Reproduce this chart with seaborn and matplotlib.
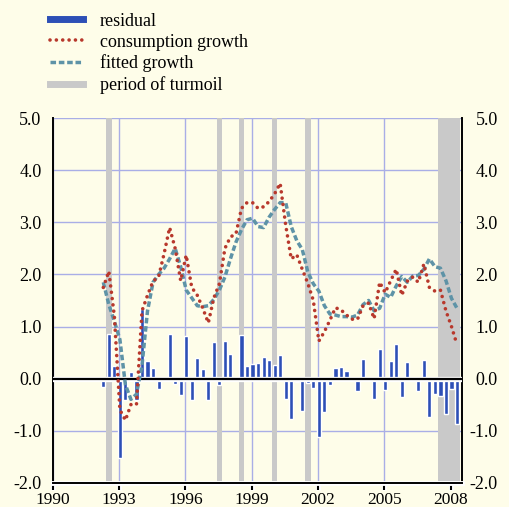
import numpy as np
import pandas as pd
import matplotlib
matplotlib.use("Agg")
import matplotlib.pyplot as plt
import matplotlib.patheffects as pe
from matplotlib.lines import Line2D
import seaborn as sns

# quarterly series, 1992Q2 - 2008Q2
quarters = pd.period_range("1992Q2", "2008Q2", freq="Q")

residual = [-0.16, 0.85, 0.25, -1.53, -0.41, 0.12, -0.41, 1.33, 0.33, 0.20,
            -0.20, 0.00, 0.86, -0.10, -0.32, 0.82, -0.41, 0.40, 0.18, -0.41,
            0.71, -0.12, 0.72, 0.47, 0.02, 0.84, 0.25, 0.28, 0.29, 0.42,
            0.36, 0.26, 0.45, -0.40, -0.78, -0.07, -0.62, -0.08, -0.19, -1.12,
            -0.64, -0.13, 0.20, 0.22, 0.14, 0.00, -0.24, 0.38, 0.00, -0.40,
            0.57, -0.22, 0.34, 0.66, -0.35, 0.32, 0.00, -0.24, 0.35, -0.74,
            -0.30, -0.33, -0.69, -0.21, -0.88]

consumption = [1.75, 2.06, 1.20, -0.60, -0.80, -0.50, -0.50, 1.30, 1.60, 1.87,
               1.95, 2.40, 2.90, 2.50, 1.88, 2.37, 1.75, 1.60, 1.35, 1.07,
               1.55, 1.82, 2.50, 2.72, 2.78, 3.27, 3.38, 3.38, 3.27, 3.30,
               3.40, 3.55, 3.75, 2.95, 2.30, 2.38, 2.10, 1.83, 1.50, 0.72,
               0.90, 1.12, 1.36, 1.32, 1.22, 1.14, 1.14, 1.40, 1.45, 1.15,
               1.85, 1.65, 1.88, 2.10, 1.60, 1.87, 1.95, 1.85, 2.20, 1.75,
               1.68, 1.70, 1.30, 1.00, 0.65]

fitted = [1.85, 1.42, 1.10, 0.75, -0.12, -0.40, -0.30, 0.25, 1.30, 1.85,
          2.00, 2.12, 2.30, 2.50, 2.15, 1.70, 1.55, 1.40, 1.38, 1.40,
          1.52, 1.70, 1.95, 2.30, 2.62, 2.86, 3.05, 3.08, 2.92, 2.90,
          3.10, 3.25, 3.38, 3.38, 2.92, 2.65, 2.48, 2.05, 1.82, 1.68,
          1.40, 1.24, 1.22, 1.19, 1.19, 1.18, 1.22, 1.42, 1.50, 1.30,
          1.35, 1.62, 1.56, 1.78, 1.96, 1.85, 1.97, 1.98, 2.10, 2.30,
          2.15, 2.12, 1.88, 1.54, 1.35]

turmoil_start = ["1992Q3", "1997Q3", "1998Q3", "2000Q1", "2001Q3", "2007Q3"]
turmoil_end = ["1992Q3", "1997Q3", "1998Q3", "2000Q1", "2001Q3", "2008Q2"]

year_ticks = [1990, 1993, 1996, 1999, 2002, 2005, 2008]
value_ticks = [-2, -1, 0, 1, 2, 3, 4, 5]
legend_labels = ["residual", "consumption growth", "fitted growth", "period of turmoil"]

BG = "#fefde9"
GRID = "#a9aee6"
BAR = "#2d4fb6"
RED = "#b8382c"
TEAL = "#5e93a7"
GRAY = "#c9c9c9"


def qpos(p):
    # decimal year used for placing a quarter on the time axis
    return p.year + (p.quarter - 1) / 4 + 0.04


df = pd.DataFrame({
    "date": [qpos(q) for q in quarters],
    "residual": residual,
    "consumption": consumption,
    "fitted": fitted,
})

plt.rcParams["font.family"] = ["Liberation Serif", "DejaVu Serif"]
plt.rcParams["axes.unicode_minus"] = False

fig = plt.figure(figsize=(5.09, 5.07), dpi=100, facecolor=BG)
ax = fig.add_axes([0.1035, 0.048, 0.8035, 0.7187])
ax.set_facecolor(BG)

# turmoil shading
for s, e in zip(turmoil_start, turmoil_end):
    ps, pe_ = pd.Period(s, "Q"), pd.Period(e, "Q")
    ax.axvspan(qpos(ps) - 0.125, qpos(pe_) + 0.125, color=GRAY, lw=0, zorder=1)

sns.barplot(data=df, x="date", y="residual", native_scale=True, color=BAR,
            saturation=1, width=0.75, edgecolor="white", linewidth=1.0,
            errorbar=None, ax=ax, zorder=2)

ax.axhline(0, color="black", lw=1.6, zorder=3,
           path_effects=[pe.withStroke(linewidth=3.8, foreground="white")])

fit_style = (0, (1.6, 0.8))
dot_style = (0, (0.01, 1.75))
sns.lineplot(data=df, x="date", y="fitted", color=TEAL, lw=2.5,
             linestyle=fit_style, ax=ax, zorder=4)
sns.lineplot(data=df, x="date", y="consumption", color=RED, lw=2.6,
             linestyle=dot_style, dash_capstyle="round", ax=ax, zorder=5)

ax.set_xlim(1990, 2008.5)
ax.set_ylim(-2, 5)
ax.set_xlabel("")
ax.set_ylabel("")
ax.set_xticks(year_ticks, [str(y) for y in year_ticks])
ax.set_yticks(value_ticks, [f"{v:.1f}" for v in value_ticks])
ax.grid(True, color=GRID, lw=1.0, zorder=0)
ax.set_axisbelow(True)

ax.tick_params(axis="x", direction="out", length=5, width=1.5, color="black",
               pad=1.5, labelsize=12.5)
ax.tick_params(axis="y", length=0, pad=8, labelsize=13)
for t in ax.xaxis.get_major_ticks():
    t.tick1line.set_path_effects([pe.withStroke(linewidth=3.5, foreground="white")])

ax.spines["top"].set_visible(False)
for side in ["left", "right", "bottom"]:
    ax.spines[side].set_color("black")
    ax.spines[side].set_linewidth(1.4)
ax.spines["bottom"].set_path_effects([pe.withStroke(linewidth=3.5, foreground="white")])
ax.spines["bottom"].set_zorder(6)

# right-hand labels
ax2 = ax.twinx()
ax2.set_ylim(-2, 5)
ax2.set_yticks(value_ticks, [f"{v:.1f}" for v in value_ticks])
ax2.tick_params(axis="y", length=0, pad=26, labelsize=13)
for lbl in ax2.get_yticklabels():
    lbl.set_horizontalalignment("right")
for side in ax2.spines:
    ax2.spines[side].set_visible(False)

handles = [
    Line2D([], [], color=BAR, lw=5),
    Line2D([], [], color=RED, lw=2.6, linestyle=dot_style, dash_capstyle="round"),
    Line2D([], [], color=TEAL, lw=2.5, linestyle=fit_style),
    Line2D([], [], color=GRAY, lw=5),
]
fig.legend(handles, legend_labels, loc="upper left", bbox_to_anchor=(0.098, 0.975),
           frameon=False, fontsize=13, handlelength=1.85, handletextpad=0.9,
           labelspacing=0.22, borderpad=0, borderaxespad=0)

fig.savefig("out.png", dpi=100, facecolor=BG)
